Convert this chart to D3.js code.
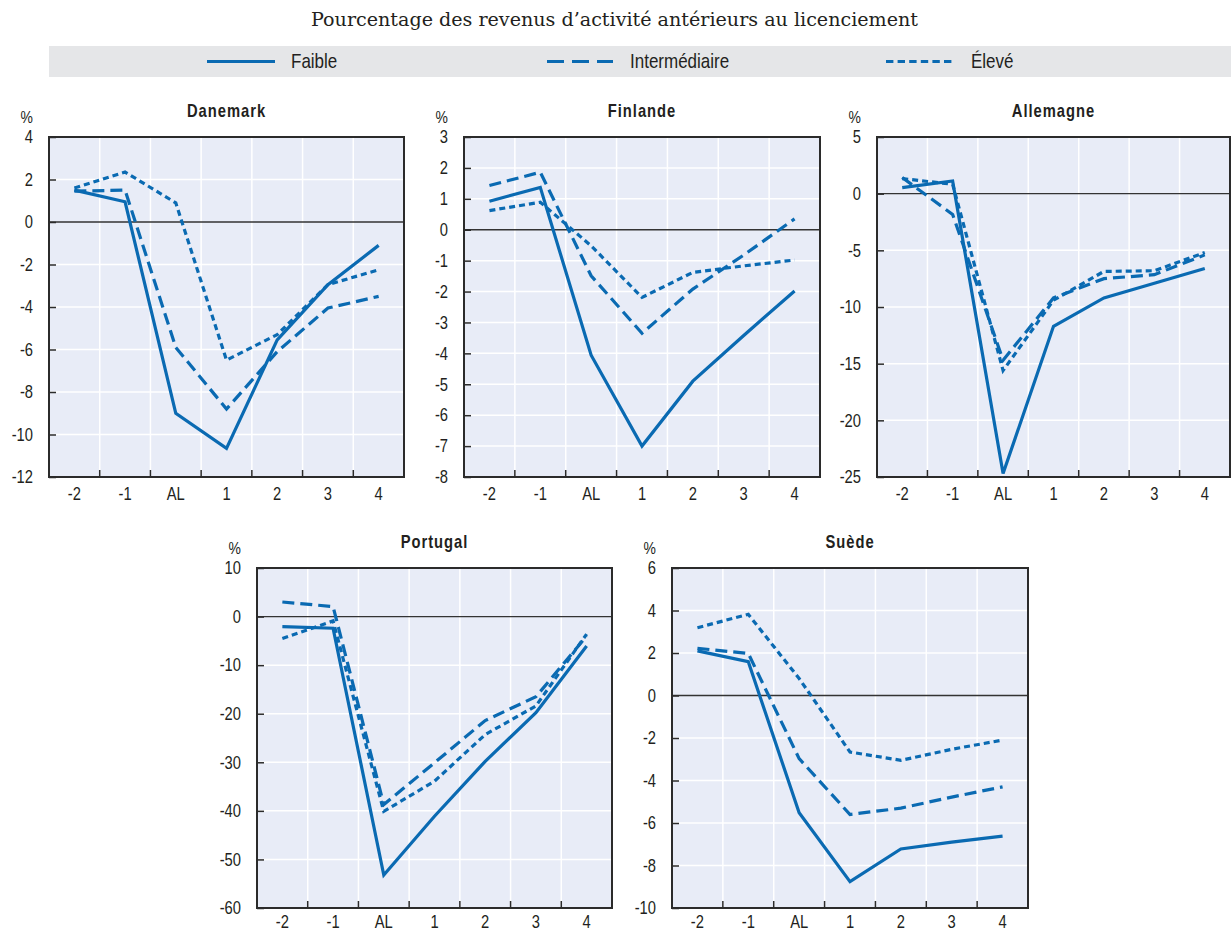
<!DOCTYPE html>
<html>
<head>
<meta charset="utf-8">
<script src="https://cdn.jsdelivr.net/npm/d3@7"></script>
<style>
  body { margin: 0; background: #fff; }
  svg text { fill: #231f20; font-family: "Liberation Sans", Arial, sans-serif; }
</style>
</head>
<body>
<div id="chart"></div>
<script>
// Data
var periods = ["-2", "-1", "AL", "1", "2", "3", "4"];
var seriesNames = ["Faible", "Intermédiaire", "Élevé"];

var danemarkFaible = [1.5, 0.95, -9.0, -10.65, -5.55, -2.95, -1.1];
var danemarkInter  = [1.45, 1.5, -5.9, -8.8, -6.1, -4.05, -3.5];
var danemarkEleve  = [1.6, 2.35, 0.9, -6.5, -5.3, -2.95, -2.25];

var finlandeFaible = [0.92, 1.37, -4.06, -7.0, -4.9, -3.42, -1.98];
var finlandeInter  = [1.43, 1.86, -1.49, -3.35, -1.92, -0.82, 0.35];
var finlandeEleve  = [0.62, 0.89, -0.52, -2.19, -1.38, -1.17, -0.98];

var allemagneFaible = [0.53, 1.12, -24.7, -11.7, -9.2, -7.9, -6.6];
var allemagneInter  = [1.42, -1.83, -14.7, -9.2, -7.5, -7.15, -5.4];
var allemagneEleve  = [1.33, 0.83, -15.6, -9.4, -6.86, -6.8, -5.2];

var portugalFaible = [-2.06, -2.4, -53.2, -41.1, -29.8, -19.8, -6.05];
var portugalInter  = [3.0, 2.06, -38.7, -30.1, -21.4, -16.5, -4.0];
var portugalEleve  = [-4.5, -0.9, -40.1, -33.9, -24.3, -18.4, -3.6];

var suedeFaible = [2.1, 1.59, -5.52, -8.76, -7.22, -6.9, -6.62];
var suedeInter  = [2.22, 1.98, -2.97, -5.6, -5.3, -4.78, -4.3];
var suedeEleve  = [3.19, 3.82, 0.8, -2.66, -3.05, -2.53, -2.1];

var danemarkTicks  = [-12, -10, -8, -6, -4, -2, 0, 2, 4];
var finlandeTicks  = [-8, -7, -6, -5, -4, -3, -2, -1, 0, 1, 2, 3];
var allemagneTicks = [-25, -20, -15, -10, -5, 0, 5];
var portugalTicks  = [-60, -50, -40, -30, -20, -10, 0, 10];
var suedeTicks     = [-10, -8, -6, -4, -2, 0, 2, 4, 6];

// Styles
var lineColor = "#0a6ab2";
var dashStyles = [null, "12,6", "6,4"];
var legendDash = [null, "17,8", "7.4,4.2"];
var narrow = 0.82;   // horizontal squeeze, stands in for a narrow sans face

var width = 1231, height = 932;

var svg = d3.select("#chart").append("svg")
    .attr("width", width)
    .attr("height", height);

// Title
svg.append("text")
    .attr("x", 311)
    .attr("y", 26)
    .attr("textLength", 607)
    .attr("lengthAdjust", "spacingAndGlyphs")
    .style("font-family", "'DejaVu Serif', serif")
    .style("font-size", "19px")
    .text("Pourcentage des revenus d’activité antérieurs au licenciement");

// Legend
var legend = svg.append("g");
legend.append("rect")
    .attr("x", 49).attr("y", 46)
    .attr("width", width - 49).attr("height", 31)
    .attr("fill", "#e5e6e8");

var legendPos = [[207, 275, 291], [547, 613, 630], [886, 952, 971]];
seriesNames.forEach(function(name, i) {
    legend.append("line")
        .attr("x1", legendPos[i][0]).attr("x2", legendPos[i][1])
        .attr("y1", 61.5).attr("y2", 61.5)
        .attr("stroke", lineColor)
        .attr("stroke-width", 3)
        .attr("stroke-dasharray", legendDash[i]);
    legend.append("text")
        .attr("transform", "translate(" + legendPos[i][2] + ",68) scale(0.85,1)")
        .style("font-size", "20px")
        .text(name);
});

var panels = [
    {name: "Danemark", x0: 49, x1: 404, y0: 137, y1: 477, ticks: danemarkTicks, series: [danemarkFaible, danemarkInter, danemarkEleve]},
    {name: "Finlande", x0: 464, x1: 820, y0: 137, y1: 477, ticks: finlandeTicks, series: [finlandeFaible, finlandeInter, finlandeEleve]},
    {name: "Allemagne", x0: 877, x1: 1230, y0: 137, y1: 477, ticks: allemagneTicks, series: [allemagneFaible, allemagneInter, allemagneEleve]},
    {name: "Portugal", x0: 257, x1: 612, y0: 568, y1: 908, ticks: portugalTicks, series: [portugalFaible, portugalInter, portugalEleve]},
    {name: "Suède", x0: 672, x1: 1028, y0: 568, y1: 908, ticks: suedeTicks, series: [suedeFaible, suedeInter, suedeEleve]}
];

panels.forEach(drawPanel);

/**
 * Draws one country panel
 */
function drawPanel(p) {
    var g = svg.append("g");

    var x = d3.scaleBand()
        .domain(periods)
        .range([p.x0, p.x1]);

    var y = d3.scaleLinear()
        .domain(d3.extent(p.ticks))
        .range([p.y1, p.y0]);

    // background
    g.append("rect")
        .attr("x", p.x0).attr("y", p.y0)
        .attr("width", p.x1 - p.x0).attr("height", p.y1 - p.y0)
        .attr("fill", "#e8ecf7");

    // horizontal grid
    g.append("g").selectAll("line")
        .data(p.ticks.filter(function(t) { return t !== 0; }))
        .join("line")
        .attr("x1", p.x0).attr("x2", p.x1)
        .attr("y1", function(d) { return y(d); })
        .attr("y2", function(d) { return y(d); })
        .attr("stroke", "#fff")
        .attr("stroke-width", 1.5);

    // vertical grid at band boundaries
    var bounds = periods.slice(1);
    g.append("g").selectAll("line")
        .data(bounds)
        .join("line")
        .attr("x1", function(d) { return x(d); })
        .attr("x2", function(d) { return x(d); })
        .attr("y1", p.y0).attr("y2", p.y1)
        .attr("stroke", "#fff")
        .attr("stroke-width", 1.5);

    // zero line
    g.append("line")
        .attr("x1", p.x0).attr("x2", p.x1)
        .attr("y1", y(0)).attr("y2", y(0))
        .attr("stroke", "#333")
        .attr("stroke-width", 1.3);

    // series
    var line = d3.line()
        .x(function(d, i) { return x(periods[i]) + x.bandwidth() / 2; })
        .y(function(d) { return y(d); });

    p.series.forEach(function(values, i) {
        g.append("path")
            .datum(values)
            .attr("d", line)
            .attr("fill", "none")
            .attr("stroke", lineColor)
            .attr("stroke-width", 3.2)
            .attr("stroke-dasharray", dashStyles[i]);
    });

    // frame
    g.append("rect")
        .attr("x", p.x0).attr("y", p.y0)
        .attr("width", p.x1 - p.x0).attr("height", p.y1 - p.y0)
        .attr("fill", "none")
        .attr("stroke", "#2b2b2b")
        .attr("stroke-width", 2);

    // bottom ticks (inward, at boundaries)
    g.append("g").selectAll("line")
        .data(bounds)
        .join("line")
        .attr("x1", function(d) { return x(d); })
        .attr("x2", function(d) { return x(d); })
        .attr("y1", p.y1).attr("y2", p.y1 - 7)
        .attr("stroke", "#2b2b2b")
        .attr("stroke-width", 1.5);

    // y axis
    var yAxis = g.append("g")
        .attr("transform", "translate(" + p.x0 + ",0)")
        .call(d3.axisLeft(y)
            .tickValues(p.ticks)
            .tickSize(-7)
            .tickSizeOuter(0)
            .tickPadding(16)
            .tickFormat(function(d) { return String(d); }));
    yAxis.attr("font-family", null).attr("font-size", null);
    yAxis.select(".domain").remove();
    yAxis.selectAll("line").attr("stroke", "#2b2b2b").attr("stroke-width", 1.5);
    yAxis.selectAll("text")
        .attr("x", -16 / narrow)
        .attr("transform", "scale(" + narrow + ",1)")
        .attr("fill", null)
        .style("font-size", "18px");

    // x axis labels
    var xAxis = g.append("g")
        .attr("transform", "translate(0," + p.y1 + ")")
        .call(d3.axisBottom(x)
            .tickSize(0)
            .tickPadding(p.y1 > 800 ? 7 : 10));
    xAxis.attr("font-family", null).attr("font-size", null);
    xAxis.select(".domain").remove();
    xAxis.selectAll("text")
        .attr("transform", "scale(" + narrow + ",1)")
        .attr("fill", null)
        .style("font-size", "18px");

    // titles
    g.append("text")
        .attr("transform", "translate(" + ((p.x0 + p.x1) / 2) + "," + (p.y0 - 20) + ") scale(" + narrow + ",1)")
        .attr("text-anchor", "middle")
        .style("font-size", "18px")
        .style("font-weight", "bold")
        .style("letter-spacing", "1.2px")
        .text(p.name);

    g.append("text")
        .attr("transform", "translate(" + (p.x0 - 16) + "," + (p.y0 - 14) + ") scale(" + narrow + ",1)")
        .attr("text-anchor", "end")
        .style("font-size", "17px")
        .text("%");
}
</script>
</body>
</html>
